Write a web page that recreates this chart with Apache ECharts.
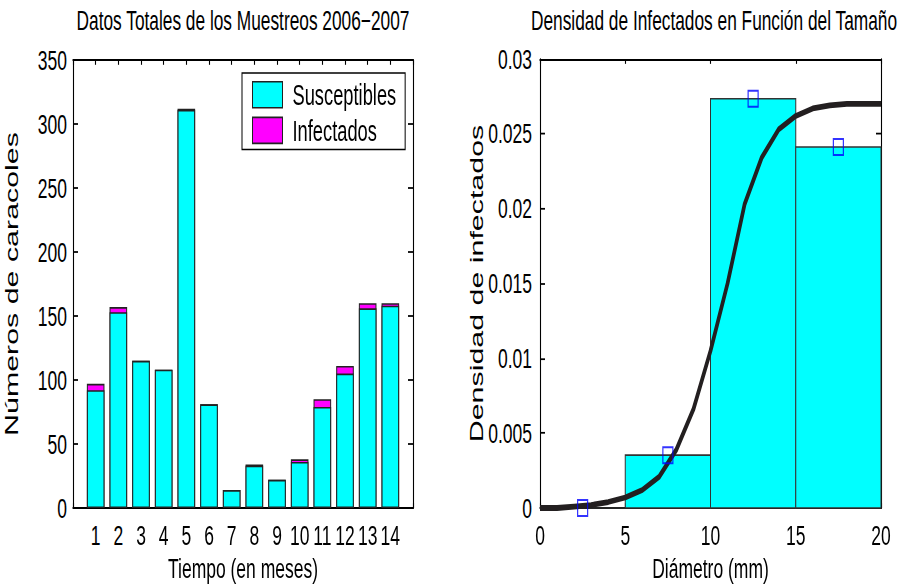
<!DOCTYPE html>
<html>
<head>
<meta charset="utf-8">
<script src="https://cdn.jsdelivr.net/npm/echarts@6/dist/echarts.min.js"></script>
<style>
html,body{margin:0;padding:0;background:#fff;width:906px;height:587px;overflow:hidden}
#c{width:906px;height:366.875px;transform:scaleY(1.6);transform-origin:0 0}
</style>
</head>
<body>
<div id="c"></div>
<script>
// ---- Left chart data ----
var months = [1,2,3,4,5,6,7,8,9,10,11,12,13,14];
var susceptibles = [92,153,115,108,311,81,14,33,22,36,79,105,156,158];
var infectados = [5,4,0,0,1,0,0,1,0,2,6,6,4,2];
// ---- Right chart data ----
var binStart = [0,5,10,15];
var binEnd = [5,10,15,20];
var binDensity = [0,0.00353,0.02735,0.02412];
var markerX = [2.5,7.5,12.5,17.5];
var markerY = [0,0.00353,0.02735,0.02412];
var curveX = [0,1,2,3,4,5,6,7,8,9,10,11,12,13,14,15,16,17,18,19,20];
var curveY = [0.0000,0.0000,0.0001,0.0002,0.0004,0.0007,0.0012,0.0021,0.0039,0.0066,0.0105,0.0150,0.0203,0.0234,0.0253,0.0262,0.0267,0.0269,0.0270,0.0270,0.0270];
var titles = ['Datos Totales de los Muestreos 2006\u22122007','Densidad de Infectados en Funci\u00f3n del Tama\u00f1o'];
var legendNames = ['Susceptibles','Infectados'];
var axisNames = ['Tiempo (en meses)','N\u00fameros de caracoles','Di\u00e1metro (mm)','Densidad de infectados'];

// The reference figure is vertically stretched by 1.6; draw at 906 x 587/1.6 and stretch the container.
var FONT = "'Liberation Sans',Arial,Helvetica,sans-serif";
var chart = echarts.init(document.getElementById('c'), null, {renderer:'svg', width:906, height:366.875});

var totals = susceptibles.map(function(v,i){return v + infectados[i];});
function zip(a,b){return a.map(function(v,i){return [v,b[i]];});}
var lineStyle = {color:'#000', width:1.1};
var lbl = {color:'#000', fontFamily:FONT, fontSize:17.5};
var nameStyle = {color:'#000', fontFamily:FONT, fontSize:17.5};
var yNameStyle = {color:'#000', fontFamily:FONT, fontSize:19};
var xTick = {show:true, inside:true, length:3, lineStyle:lineStyle};
var yTick = {show:true, inside:true, length:5, lineStyle:lineStyle};

var option = {
  animation:false,
  backgroundColor:'#fff',
  title:[
    {text:titles[0], left:243, top:4.5, padding:0, textAlign:'center', textStyle:{fontFamily:FONT,fontSize:17.3,fontWeight:'normal',color:'#000'}},
    {text:titles[1], left:714, top:4.5, padding:0, textAlign:'center', textStyle:{fontFamily:FONT,fontSize:17.3,fontWeight:'normal',color:'#000'}}
  ],
  legend:{
    left:242, top:45.6, orient:'vertical',
    padding:[4.6,9,2.9,10], itemGap:4.3, itemWidth:30, itemHeight:16.25,
    backgroundColor:'#fff', borderColor:'#000', borderWidth:1,
    textStyle:{fontFamily:FONT,fontSize:18.3,color:'#000',padding:[0,0,0,5]},
    icon:'rect', itemStyle:{borderColor:'#222',borderWidth:1},
    data:legendNames
  },
  grid:[
    {left:73, top:37.5, width:340, height:280, outerBoundsMode:'none', containLabel:false},
    {left:540, top:36.9, width:341, height:280.6, outerBoundsMode:'none', containLabel:false}
  ],
  xAxis:[
    {gridIndex:0, type:'value', min:0, max:15, interval:1, position:'bottom',
     axisLine:{show:true,onZero:false,lineStyle:lineStyle}, axisTick:xTick, splitLine:{show:false},
     axisLabel:Object.assign({margin:8, formatter:function(v){return (v>=1&&v<=14)?String(v):'';}},lbl),
     name:axisNames[0], nameLocation:'middle', nameGap:29, nameMoveOverlap:false, nameTextStyle:nameStyle},
    {gridIndex:0, type:'value', min:0, max:15, interval:1, position:'top',
     axisLine:{show:true,onZero:false,lineStyle:lineStyle}, axisTick:xTick, axisLabel:{show:false}, splitLine:{show:false}},
    {gridIndex:1, type:'value', min:0, max:20, interval:5, position:'bottom',
     axisLine:{show:true,onZero:false,lineStyle:lineStyle}, axisTick:xTick, splitLine:{show:false},
     axisLabel:Object.assign({margin:8},lbl),
     name:axisNames[2], nameLocation:'middle', nameGap:29, nameMoveOverlap:false, nameTextStyle:nameStyle},
    {gridIndex:1, type:'value', min:0, max:20, interval:5, position:'top',
     axisLine:{show:true,onZero:false,lineStyle:lineStyle}, axisTick:xTick, axisLabel:{show:false}, splitLine:{show:false}}
  ],
  yAxis:[
    {gridIndex:0, type:'value', min:0, max:350, interval:50, position:'left',
     axisLine:{show:true,onZero:false,lineStyle:lineStyle}, axisTick:yTick, splitLine:{show:false},
     axisLabel:Object.assign({margin:6},lbl),
     name:axisNames[1], nameLocation:'middle', nameGap:52, nameMoveOverlap:false, nameTextStyle:yNameStyle},
    {gridIndex:0, type:'value', min:0, max:350, interval:50, position:'right',
     axisLine:{show:true,onZero:false,lineStyle:lineStyle}, axisTick:yTick, splitLine:{show:false}, axisLabel:{show:false}},
    {gridIndex:1, type:'value', min:0, max:0.03, interval:0.005, position:'left',
     axisLine:{show:true,onZero:false,lineStyle:lineStyle}, axisTick:yTick, splitLine:{show:false},
     axisLabel:Object.assign({margin:8},lbl),
     name:axisNames[3], nameLocation:'middle', nameGap:54, nameMoveOverlap:false, nameTextStyle:yNameStyle},
    {gridIndex:1, type:'value', min:0, max:0.03, interval:0.005, position:'right',
     axisLine:{show:true,onZero:false,lineStyle:lineStyle}, axisTick:yTick, splitLine:{show:false}, axisLabel:{show:false}}
  ],
  series:[
    {name:legendNames[1], type:'bar', xAxisIndex:0, yAxisIndex:0, barWidth:17.6, barGap:'-100%',
     itemStyle:{color:'#ff00ff', borderColor:'#222', borderWidth:1}, data:zip(months,totals)},
    {name:legendNames[0], type:'bar', xAxisIndex:0, yAxisIndex:0, barWidth:17.6, barGap:'-100%',
     itemStyle:{color:'#00ffff', borderColor:'#222', borderWidth:1}, data:zip(months,susceptibles)},
    {type:'custom', xAxisIndex:2, yAxisIndex:2, z:1,
     data:binStart.map(function(s,i){return [s,binEnd[i],binDensity[i]];}),
     renderItem:function(params,api){
       var p0 = api.coord([api.value(0), api.value(2)]);
       var p1 = api.coord([api.value(1), 0]);
       return {type:'rect', shape:{x:p0[0], y:p0[1], width:p1[0]-p0[0], height:p1[1]-p0[1]},
               style:{fill:'#00ffff', stroke:'#333', lineWidth:1}};
     }},
    {type:'line', xAxisIndex:2, yAxisIndex:2, z:3, symbol:'none', smooth:false,
     lineStyle:{color:'#231f20', width:3.6}, data:zip(curveX,curveY)},
    {type:'scatter', xAxisIndex:2, yAxisIndex:2, z:4, symbol:'rect', symbolSize:10,
     itemStyle:{color:'rgba(0,0,0,0)', borderColor:'#0000ff', borderWidth:1.2}, data:zip(markerX,markerY)}
  ]
};
chart.setOption(option);
</script>
</body>
</html>
